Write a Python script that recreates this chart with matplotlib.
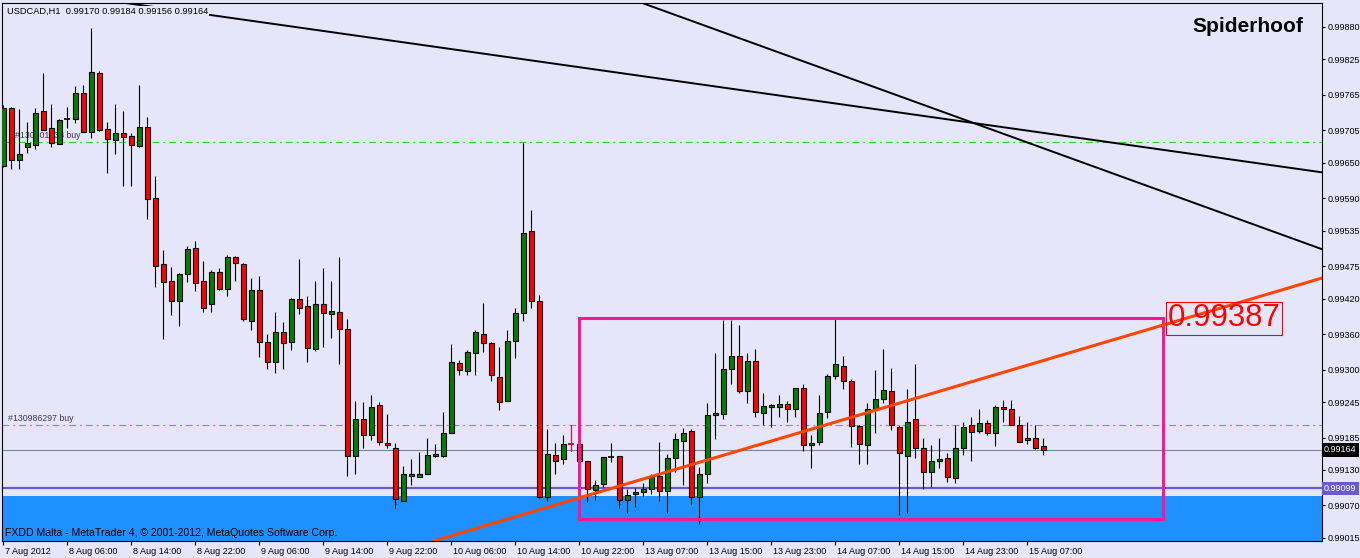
import matplotlib
matplotlib.use("Agg")
import matplotlib.pyplot as plt
import matplotlib.transforms as mtransforms
from matplotlib.patches import Rectangle
import numpy as np

# USDCAD H1 candles, bar 0 = 7 Aug 22:00
opens = [0.99644, 0.99742, 0.99654, 0.99676, 0.99681, 0.99737, 0.99709, 0.99682, 0.99725, 0.99724,
         0.99768, 0.99702, 0.99802, 0.99708, 0.99688, 0.99700, 0.99695, 0.99678, 0.99710, 0.99590,
         0.99478, 0.99450, 0.99416, 0.99461, 0.99505, 0.99450, 0.99411, 0.99466, 0.99436, 0.99490,
         0.99478, 0.99383, 0.99434, 0.99346, 0.99312, 0.99363, 0.99346, 0.99419, 0.99407, 0.99334,
         0.99411, 0.99394, 0.99397, 0.99368, 0.99153, 0.99216, 0.99189, 0.99240, 0.99175, 0.99168,
         0.99078, 0.99124, 0.99118, 0.99123, 0.99157, 0.99153, 0.99192, 0.99311, 0.99297, 0.99328,
         0.99361, 0.99345, 0.99287, 0.99246, 0.99348, 0.99395, 0.99534, 0.99416, 0.99085, 0.99155,
         0.99148, 0.99174, 0.99174, 0.99146, 0.99096, 0.99106, 0.99152, 0.99153, 0.99080, 0.99089,
         0.99092, 0.99097, 0.99119, 0.99094, 0.99150, 0.99179, 0.99196, 0.99084, 0.99123, 0.99223,
         0.99224, 0.99301, 0.99323, 0.99263, 0.99314, 0.99227, 0.99236, 0.99236, 0.99241, 0.99233,
         0.99268, 0.99172, 0.99177, 0.99228, 0.99289, 0.99306, 0.99280, 0.99204, 0.99172, 0.99233,
         0.99250, 0.99263, 0.99202, 0.99153, 0.99216, 0.99167, 0.99126, 0.99145, 0.99150, 0.99116,
         0.99167, 0.99206, 0.99196, 0.99209, 0.99192, 0.99236, 0.99233, 0.99206, 0.99180, 0.99184,
         0.99170]
highs = [0.99748, 0.99744, 0.99741, 0.99719, 0.99742, 0.99802, 0.99750, 0.99724, 0.99745, 0.99780,
         0.99782, 0.99878, 0.99806, 0.99719, 0.99750, 0.99738, 0.99700, 0.99782, 0.99728, 0.99628,
         0.99502, 0.99473, 0.99463, 0.99510, 0.99517, 0.99483, 0.99468, 0.99472, 0.99494, 0.99492,
         0.99480, 0.99455, 0.99458, 0.99360, 0.99397, 0.99380, 0.99422, 0.99488, 0.99424, 0.99450,
         0.99472, 0.99450, 0.99490, 0.99385, 0.99247, 0.99245, 0.99257, 0.99245, 0.99224, 0.99175,
         0.99136, 0.99149, 0.99161, 0.99184, 0.99174, 0.99228, 0.99343, 0.99317, 0.99333, 0.99367,
         0.99412, 0.99346, 0.99338, 0.99367, 0.99405, 0.99683, 0.99570, 0.99426, 0.99199, 0.99175,
         0.99189, 0.99207, 0.99175, 0.99146, 0.99113, 0.99152, 0.99175, 0.99153, 0.99097, 0.99099,
         0.99108, 0.99123, 0.99177, 0.99157, 0.99192, 0.99201, 0.99199, 0.99135, 0.99243, 0.99328,
         0.99384, 0.99384, 0.99375, 0.99328, 0.99334, 0.99260, 0.99241, 0.99257, 0.99246, 0.99268,
         0.99275, 0.99190, 0.99257, 0.99292, 0.99385, 0.99323, 0.99284, 0.99207, 0.99243, 0.99299,
         0.99334, 0.99302, 0.99207, 0.99267, 0.99309, 0.99185, 0.99172, 0.99184, 0.99158, 0.99206,
         0.99211, 0.99219, 0.99234, 0.99214, 0.99240, 0.99248, 0.99248, 0.99221, 0.99211, 0.99206,
         0.99184]
lows = [0.99643, 0.99640, 0.99640, 0.99666, 0.99674, 0.99706, 0.99677, 0.99682, 0.99709, 0.99718,
        0.99702, 0.99692, 0.99704, 0.99633, 0.99665, 0.99610, 0.99610, 0.99676, 0.99555, 0.99440,
        0.99352, 0.99393, 0.99373, 0.99448, 0.99433, 0.99397, 0.99397, 0.99434, 0.99424, 0.99450,
        0.99383, 0.99367, 0.99321, 0.99301, 0.99294, 0.99301, 0.99333, 0.99394, 0.99312, 0.99331,
        0.99338, 0.99353, 0.99309, 0.99119, 0.99124, 0.99168, 0.99180, 0.99172, 0.99168, 0.99065,
        0.99078, 0.99105, 0.99118, 0.99123, 0.99152, 0.99152, 0.99192, 0.99290, 0.99290, 0.99290,
        0.99329, 0.99280, 0.99231, 0.99246, 0.99319, 0.99382, 0.99405, 0.99083, 0.99078, 0.99124,
        0.99140, 0.99163, 0.99085, 0.99075, 0.99080, 0.99101, 0.99143, 0.99066, 0.99058, 0.99068,
        0.99086, 0.99089, 0.99078, 0.99058, 0.99126, 0.99104, 0.99073, 0.99039, 0.99108, 0.99183,
        0.99217, 0.99276, 0.99261, 0.99244, 0.99220, 0.99207, 0.99203, 0.99219, 0.99212, 0.99220,
        0.99162, 0.99134, 0.99172, 0.99218, 0.99284, 0.99267, 0.99169, 0.99140, 0.99140, 0.99192,
        0.99243, 0.99197, 0.99054, 0.99058, 0.99150, 0.99097, 0.99101, 0.99133, 0.99110, 0.99108,
        0.99155, 0.99145, 0.99192, 0.99190, 0.99170, 0.99212, 0.99206, 0.99177, 0.99174, 0.99165,
        0.99156]
closes = [0.99742, 0.99655, 0.99665, 0.99683, 0.99734, 0.99706, 0.99684, 0.99722, 0.99725, 0.99768,
          0.99702, 0.99803, 0.99705, 0.99690, 0.99700, 0.99693, 0.99680, 0.99710, 0.99588, 0.99475,
          0.99448, 0.99416, 0.99461, 0.99504, 0.99446, 0.99405, 0.99465, 0.99436, 0.99490, 0.99480,
          0.99385, 0.99434, 0.99346, 0.99312, 0.99363, 0.99345, 0.99419, 0.99405, 0.99336, 0.99411,
          0.99395, 0.99399, 0.99368, 0.99153, 0.99216, 0.99189, 0.99236, 0.99177, 0.99172, 0.99081,
          0.99124, 0.99119, 0.99123, 0.99155, 0.99153, 0.99192, 0.99312, 0.99299, 0.99329, 0.99363,
          0.99345, 0.99290, 0.99245, 0.99348, 0.99395, 0.99532, 0.99416, 0.99084, 0.99157, 0.99146,
          0.99174, 0.99174, 0.99146, 0.99097, 0.99104, 0.99152, 0.99152, 0.99080, 0.99087, 0.99092,
          0.99097, 0.99118, 0.99094, 0.99150, 0.99182, 0.99192, 0.99084, 0.99123, 0.99223, 0.99226,
          0.99301, 0.99323, 0.99264, 0.99314, 0.99229, 0.99238, 0.99240, 0.99241, 0.99233, 0.99268,
          0.99172, 0.99176, 0.99226, 0.99289, 0.99309, 0.99280, 0.99205, 0.99174, 0.99233, 0.99250,
          0.99265, 0.99206, 0.99158, 0.99211, 0.99167, 0.99126, 0.99145, 0.99148, 0.99118, 0.99167,
          0.99202, 0.99194, 0.99209, 0.99192, 0.99236, 0.99233, 0.99206, 0.99177, 0.99184, 0.99168,
          0.99164]

tick_bars = list(range(0, 129, 8))
tick_labels = ["7 Aug 2012", "8 Aug 06:00", "8 Aug 14:00", "8 Aug 22:00", "9 Aug 06:00",
               "9 Aug 14:00", "9 Aug 22:00", "10 Aug 06:00", "10 Aug 14:00", "10 Aug 22:00",
               "13 Aug 07:00", "13 Aug 15:00", "13 Aug 23:00", "14 Aug 07:00", "14 Aug 15:00",
               "14 Aug 23:00", "15 Aug 07:00"]
price_ticks = [0.99880, 0.99825, 0.99765, 0.99705, 0.99650, 0.99590, 0.99535, 0.99475,
               0.99420, 0.99360, 0.99300, 0.99245, 0.99185, 0.99130, 0.99070, 0.99015]

bid = 0.99164
support = 0.99099
zone_top = 0.99086
order_levels = [0.99685, 0.99206]
order_labels = ["#130901238 buy", "#130986297 buy"]
order_label_bars = [1.5, 0.6]
box_bars = [72, 145]
box_prices = [0.99047, 0.99387]
box_label = "0.99387"
trend_up = [(55.84, 0.99018), (164.84, 0.99455)]
trend_a = [(26.05, 0.99900), (164.8, 0.99634)]
trend_b = [(79.59, 0.99922), (164.8, 0.99504)]
red_doji = [71]

BG = "#E6E6FA"
plt.rcParams['font.family'] = ['Liberation Sans', 'DejaVu Sans']
plt.rcParams['lines.scale_dashes'] = False

fig = plt.figure(figsize=(13.6, 5.58), dpi=100, facecolor=BG)
ax = fig.add_axes([2 / 1360, 17 / 558, 1320 / 1360, 538 / 558], facecolor=BG)
ymin, ymax = 0.990098, 0.999206
ax.set_xlim(-0.16, 164.84)
ax.set_ylim(ymin, ymax)

# background objects
ax.axhspan(ymin, zone_top, color="#1E90FF", lw=0, zorder=1)
for lvl in order_levels:
    ax.axhline(lvl, color="#32CD32", lw=0.8, dashes=(5, 2.8, 1.4, 2.8), zorder=1.5)
for lvl, lab, bx in zip(order_levels, order_labels, order_label_bars):
    ax.text(bx, lvl + 0.00003, lab, fontsize=6.3, color="#3a3a48", va="bottom", ha="left", zorder=1.6)
ax.axhline(bid, color="#778899", lw=0.8, zorder=1.5)
ax.axhline(support, color="#6A5ACD", lw=1.6, zorder=1.5)

# candles
x = np.arange(len(opens))
o = np.array(opens)
c = np.array(closes)
h = np.array(highs)
l = np.array(lows)
up = c > o
dn = c < o
flat = c == o
ax.vlines(x, l, h, color="black", lw=0.8, zorder=3)
ax.bar(x[up], (c - o)[up], bottom=o[up], width=0.625, color="#008000",
       edgecolor="black", linewidth=0.8, zorder=4)
ax.bar(x[dn], (o - c)[dn], bottom=c[dn], width=0.625, color="#FF0000",
       edgecolor="black", linewidth=0.8, zorder=4)
ax.hlines(o[flat], x[flat] - 0.35, x[flat] + 0.35, color="black", lw=1.2, zorder=4)
for i in red_doji:
    ax.vlines(i, lows[i], highs[i], color="#DC143C", lw=0.8, zorder=5)
    ax.hlines(opens[i], i - 0.35, i + 0.35, color="#DC143C", lw=1.2, zorder=5)

# drawn objects
ax.add_patch(Rectangle((box_bars[0], box_prices[0]), box_bars[1] - box_bars[0],
                       box_prices[1] - box_prices[0], fill=False, edgecolor="#FF1493",
                       lw=2.2, zorder=6))
ax.axline(trend_up[0], trend_up[1], color="#FF4500", lw=2.2, zorder=6)
ax.axline(trend_a[0], trend_a[1], color="black", lw=1.4, zorder=6)
ax.axline(trend_b[0], trend_b[1], color="black", lw=1.4, zorder=6)
ax.text(box_bars[1] + 0.55, box_prices[1], box_label, fontsize=22.4, color="#FF0000",
        ha="left", va="center", zorder=7,
        bbox=dict(boxstyle="square,pad=0.05", fc="none", ec="#FF0000", lw=0.8))

# axes
for sp in ax.spines.values():
    sp.set_color("black")
    sp.set_linewidth(0.8)
ax.yaxis.tick_right()
ax.set_yticks(price_ticks)
ax.set_yticklabels([f"{p:.5f}" for p in price_ticks])
ax.tick_params(axis="y", length=2, pad=2, labelsize=6.5, colors="black")
ax.set_xticks(tick_bars)
ax.set_xticklabels(tick_labels, ha="left")
ax.tick_params(axis="x", length=3, pad=1, labelsize=6.5, colors="black")
shift = mtransforms.ScaledTranslation(2 / 100, 0, fig.dpi_scale_trans)
for lab in ax.get_xticklabels():
    lab.set_transform(lab.get_transform() + shift)

side = mtransforms.blended_transform_factory(ax.transAxes, ax.transData)
ax.text(1.0015, bid, f"{bid:.5f}", transform=side, fontsize=6.5, color="white", va="center",
        ha="left", bbox=dict(boxstyle="square,pad=0.25", fc="black", ec="none"), clip_on=False)
ax.text(1.0015, support, f"{support:.5f}", transform=side, fontsize=6.5, color="white",
        va="center", ha="left",
        bbox=dict(boxstyle="square,pad=0.25", fc="#6A5ACD", ec="none"), clip_on=False)

# texts
fig.text(7 / 1360, 1 - 11 / 558, "USDCAD,H1  0.99170 0.99184 0.99156 0.99164", fontsize=6.7,
         va="center", ha="left", bbox=dict(boxstyle="square,pad=0.1", fc=BG, ec="none"))
fig.text(1303 / 1360, 1 - 26 / 558, "Spiderhoof", fontsize=15, fontweight="bold",
         ha="right", va="center")
fig.text(5 / 1360, 1 - 533 / 558, "FXDD Malta - MetaTrader 4, \u00a9 2001-2012, MetaQuotes Software Corp.",
         fontsize=7.6, ha="left", va="center")

fig.savefig("out.png", dpi=100, facecolor=BG)
